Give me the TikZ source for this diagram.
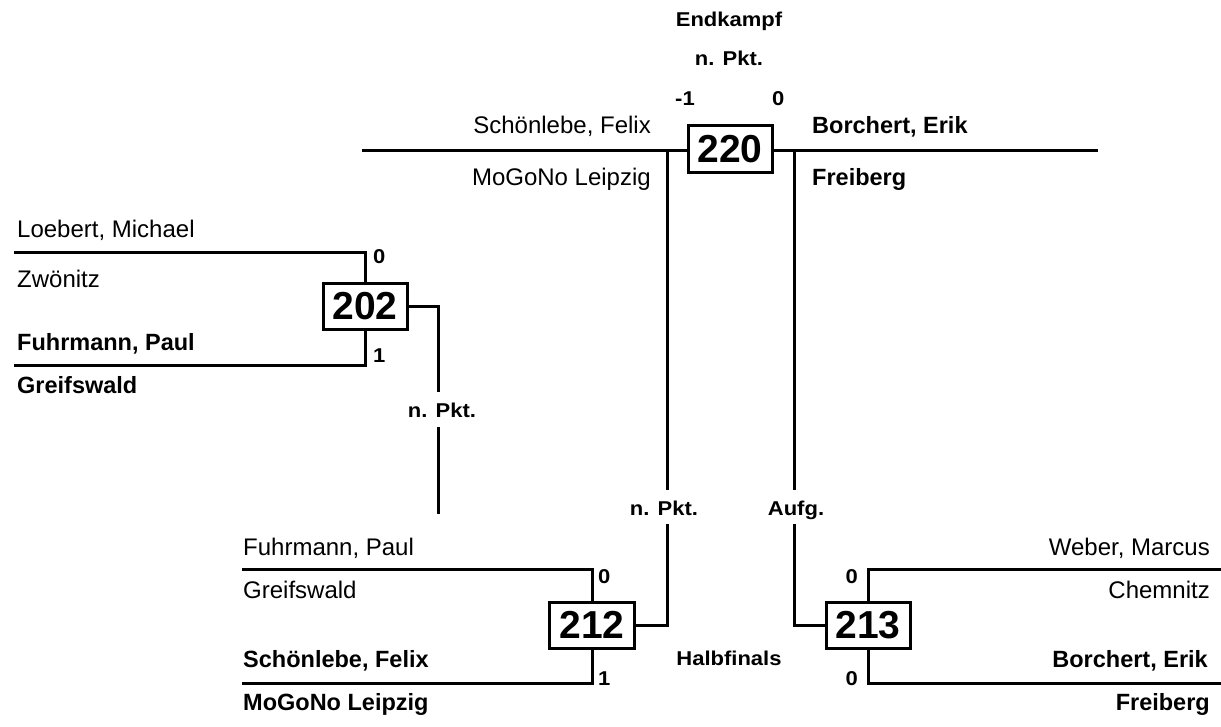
\documentclass[tikz,border=0pt]{standalone}
\usepackage{fontspec}
\setmainfont{Liberation Sans}
\newfontfamily\lblfont[FakeStretch=1.1]{Liberation Sans}
\tikzset{
  wire/.style={line width=3pt, line cap=rect},
  numbox/.style={draw, line width=3pt, fill=white, minimum width=84pt, minimum height=47pt, inner sep=0pt, font=\bfseries\fontsize{39}{40}\selectfont},
  nm/.style={inner sep=0pt, font=\fontsize{24}{26}\selectfont},
  nmb/.style={inner sep=0pt, font=\bfseries\fontsize{23.5}{26}\selectfont},
  lbl/.style={inner sep=0pt, font=\lblfont\bfseries\fontsize{20}{22}\selectfont},
}
\begin{document}
\begin{tikzpicture}[x=1pt, y=-1pt]
\useasboundingbox (0,0) rectangle (1221,726);

% ---- final 220 ----
\coordinate (fL) at (363,150);
\coordinate (fR) at (1096,150);
\coordinate (vLa) at (667,150);
\coordinate (vLb) at (667,488);
\coordinate (vLc) at (667,525);
\coordinate (vRa) at (794,150);
\coordinate (vRb) at (794,488);
\coordinate (vRc) at (794,525);
\draw[wire] (fL) -- (fR);
\draw[wire] (vLa) -- (vLb);
\draw[wire] (vRa) -- (vRb);
\node[numbox] (b220) at (730,149) {220};

\node[lbl, anchor=base] (tEnd) at (729,26) {Endkampf};
\node[lbl, anchor=base] (tNP1) at (729,65) {n. Pkt.};
\node[lbl, anchor=base west] (tm1) at (675,105) {-1};
\node[lbl, anchor=base west] (t0f) at (772,105) {0};
\node[nm, anchor=base east] (fn1) at (651,133) {Schönlebe, Felix};
\node[nm, anchor=base east] (fc1) at (651,185) {MoGoNo Leipzig};
\node[nmb, anchor=base west] (fn2) at (812,133) {Borchert, Erik};
\node[nmb, anchor=base west] (fc2) at (812,185) {Freiberg};

% ---- 202 ----
\coordinate (a1) at (15,252);
\coordinate (a2) at (15,365);
\coordinate (a3) at (438,390);
\coordinate (a4) at (438,428);
\coordinate (a5) at (438,512);
\node[numbox, minimum height=46pt] (b202) at (365,306) {202};
\draw[wire] (a1) -| (b202.north);
\draw[wire] (a2) -| (b202.south);
\draw[wire] (b202.east) -| (a3);
\draw[wire] (a4) -- (a5);
\node[lbl, anchor=base] (tNP2) at (442,417) {n. Pkt.};
\node[lbl, anchor=base west] (s202a) at (373,263) {0};
\node[lbl, anchor=base west] (s202b) at (373,362) {1};
\node[nm, anchor=base west] (n2021) at (17,237) {Loebert, Michael};
\node[nm, anchor=base west] (c2021) at (17,287) {Zwönitz};
\node[nmb, anchor=base west] (n2022) at (17,350) {Fuhrmann, Paul};
\node[nmb, anchor=base west] (c2022) at (17,393) {Greifswald};

% ---- 212 ----
\coordinate (d1) at (243,569);
\coordinate (d2) at (243,683);
\node[numbox, minimum width=85pt, minimum height=46pt] (b212) at (592,625) {212};
\draw[wire] (d1) -| (b212.north);
\draw[wire] (d2) -| (b212.south);
\draw[wire] (b212.east) -| (vLc);
\node[lbl, anchor=base] (tNP3) at (664,515) {n. Pkt.};
\node[lbl, anchor=base west] (s212a) at (598,583) {0};
\node[lbl, anchor=base west] (s212b) at (598,685) {1};
\node[nm, anchor=base west] (n2121) at (243,555) {Fuhrmann, Paul};
\node[nm, anchor=base west] (c2121) at (243,598) {Greifswald};
\node[nmb, anchor=base west] (n2122) at (243,667) {Schönlebe, Felix};
\node[nmb, anchor=base west] (c2122) at (243,710) {MoGoNo Leipzig};

% ---- 213 ----
\coordinate (e1) at (1220,569);
\coordinate (e2) at (1220,683);
\node[numbox, minimum height=46pt] (b213) at (868,625) {213};
\draw[wire] (e1) -| (b213.north);
\draw[wire] (e2) -| (b213.south);
\draw[wire] (b213.west) -| (vRc);
\node[lbl, anchor=base] (tAufg) at (796,515) {Aufg.};
\node[lbl, anchor=base east] (s213a) at (858,583) {0};
\node[lbl, anchor=base east] (s213b) at (858,685) {0};
\node[nm, anchor=base east] (n2131) at (1210,555) {Weber, Marcus};
\node[nm, anchor=base east] (c2131) at (1210,598) {Chemnitz};
\node[nmb, anchor=base east] (n2132) at (1208,667) {Borchert, Erik};
\node[nmb, anchor=base east] (c2132) at (1210,710) {Freiberg};

\node[lbl, anchor=base] (tHalb) at (729,665) {Halbfinals};
\end{tikzpicture}
\end{document}
